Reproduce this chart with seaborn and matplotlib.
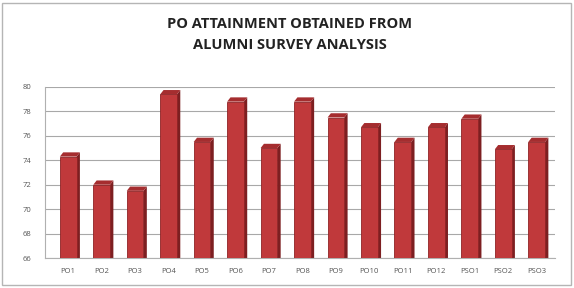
import matplotlib
matplotlib.use('Agg')
import matplotlib.pyplot as plt
import seaborn as sns
import pandas as pd
from matplotlib.patches import Rectangle, Polygon

# ============ Data ============
outcomes = ['PO1', 'PO2', 'PO3', 'PO4', 'PO5', 'PO6', 'PO7', 'PO8', 'PO9',
            'PO10', 'PO11', 'PO12', 'PSO1', 'PSO2', 'PSO3']
attainment = [74.3, 72.0, 71.5, 79.4, 75.5, 78.8, 75.0, 78.8, 77.5,
              76.7, 75.5, 76.7, 77.4, 74.9, 75.5]
y_ticks = [66, 68, 70, 72, 74, 76, 78, 80]

df = pd.DataFrame({'Outcome': outcomes, 'Attainment': attainment})

# ============ Plot ============
sns.set_style('white')
plt.rcParams['font.family'] = ['Open Sans', 'DejaVu Sans']

fig = plt.figure(figsize=(5.74, 2.88), dpi=100)
ax = fig.add_axes([0.078, 0.104, 0.889, 0.594])

sns.barplot(data=df, x='Outcome', y='Attainment', color='#c0393b',
            width=0.5, saturation=1, edgecolor='#8e2325', linewidth=0.6,
            ax=ax, zorder=3)

# fake 3D look: dark side face and lighter top on each bar
for p in ax.patches:
    x0, w, h = p.get_x(), p.get_width(), p.get_height()
    y0 = p.get_y()
    side = Polygon([(x0 + w, y0), (x0 + w + 0.1, y0 + 0.35),
                    (x0 + w + 0.1, y0 + h + 0.35), (x0 + w, y0 + h)],
                   closed=True, facecolor='#7d1f21', edgecolor='none', zorder=2)
    top = Polygon([(x0, y0 + h), (x0 + w, y0 + h),
                   (x0 + w + 0.1, y0 + h + 0.35), (x0 + 0.1, y0 + h + 0.35)],
                  closed=True, facecolor='#a52d2f', edgecolor='none', zorder=2)
    ax.add_patch(side)
    ax.add_patch(top)

ax.set_ylim(66, 80)
ax.set_xlim(-0.7, len(outcomes) - 0.45)
ax.set_yticks(y_ticks)
ax.yaxis.grid(True, color='#a8a8a8', linewidth=0.8, zorder=0)
ax.set_axisbelow(True)
ax.set_xlabel('')
ax.set_ylabel('')
ax.tick_params(axis='y', labelsize=5.5, colors='#555555', length=0, pad=10)
ax.tick_params(axis='x', labelsize=5.5, colors='#555555', length=0, pad=7)
for s in ['top', 'right']:
    ax.spines[s].set_visible(False)
ax.spines['left'].set_color('#b0b0b0')
ax.spines['bottom'].set_color('#b0b0b0')

fig.text(0.505, 0.88, 'PO ATTAINMENT OBTAINED FROM\nALUMNI SURVEY ANALYSIS',
         ha='center', va='center', fontsize=10.5, fontweight='bold',
         color='#222222', linespacing=1.6)

# chart border
fig.patches.append(Rectangle((0.004, 0.01), 0.99, 0.98, transform=fig.transFigure,
                             fill=False, edgecolor='#b5b5b5', linewidth=1.0))

plt.savefig('out.png', dpi=100)
